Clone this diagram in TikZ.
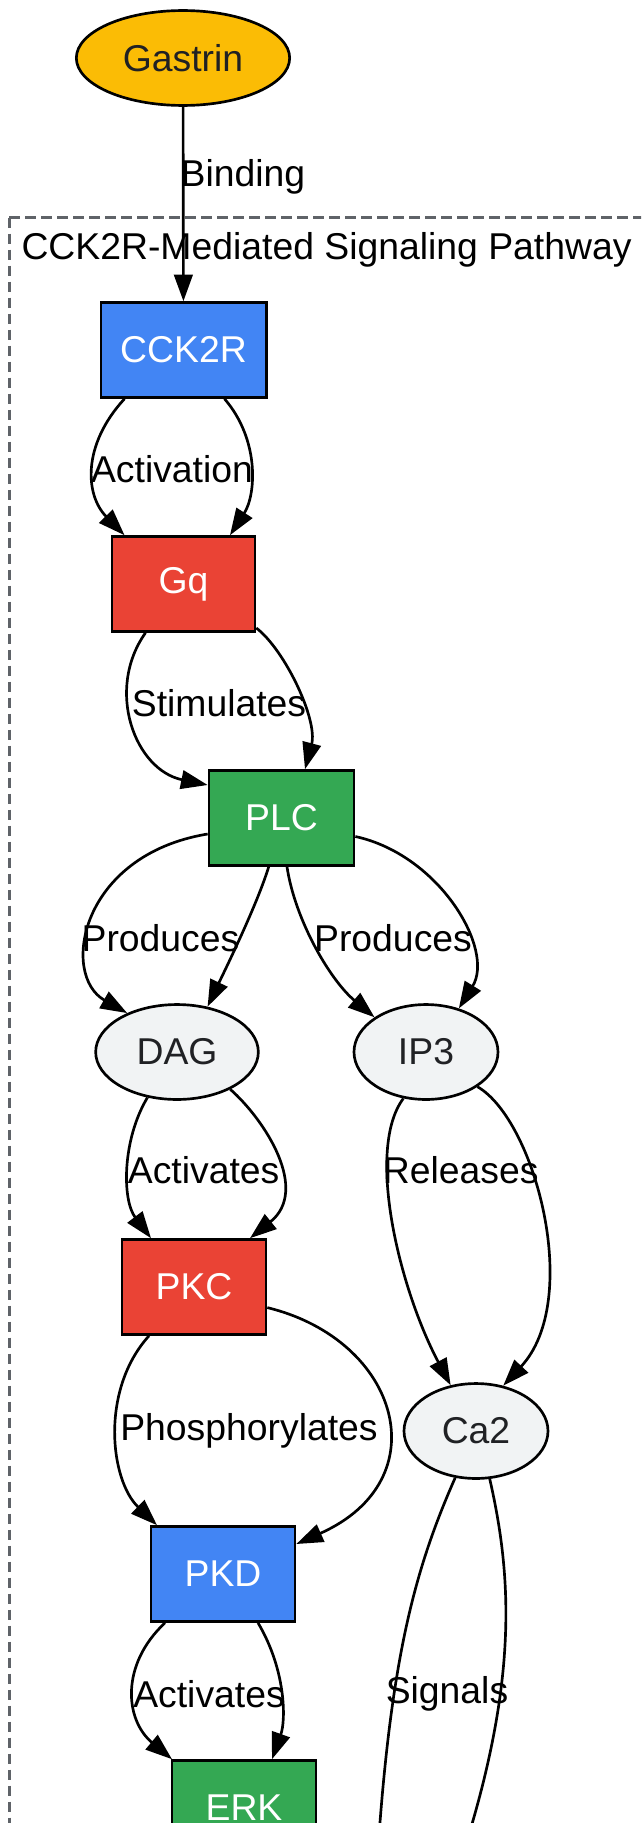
\documentclass[tikz,border=0pt]{standalone}
\usepackage{fontspec}
\setmainfont{Liberation Sans}
\usetikzlibrary{shapes.geometric,arrows.meta,calc}
\definecolor{gYellow}{HTML}{FBBC05}
\definecolor{gBlue}{HTML}{4285F4}
\definecolor{gRed}{HTML}{EA4335}
\definecolor{gGreen}{HTML}{34A853}
\definecolor{gLight}{HTML}{F1F3F4}
\definecolor{gText}{HTML}{202124}
\definecolor{gFrame}{HTML}{5F6368}
\begin{document}
\begin{tikzpicture}
[x=0.375pt,y=-0.375pt,
  font=\fontsize{14}{17}\selectfont,
  boxDecorate/.style={shape=rectangle,draw,line width=1pt,inner sep=0pt,
    minimum width=54pt,minimum height=35.6pt,text=white},%
  ovalDecorate/.style={shape=ellipse,draw,line width=1pt,inner sep=0pt,
    minimum height=35.6pt,fill=gLight,text=gText},%
  lineDecorate/.style={-{Triangle[length=10pt,width=7pt]},line width=1pt},%
  labelDecorate/.style={inner sep=0pt,text=black},%
  clusterDecorate/.style={draw=gFrame,line width=1pt,dash pattern=on 4pt off 2pt}]
\clip (0,0) rectangle (641,1823);
\fill[white] (0,0) rectangle (641,1823);
%% cluster
\draw[clusterDecorate] (9.3,217.5) rectangle (700,2100);
\node (title) at (21,250) [anchor=west,inner sep=0pt] {CCK2R-Mediated Signaling Pathway};
%% nodes or vertices
\node (gastrin) at (183,58) [ovalDecorate,fill=gYellow,minimum width=80pt] {Gastrin};
\node (cck) at (183.5,350) [boxDecorate,fill=gBlue,minimum width=62pt] {CCK2R};
\node (gq) at (183.5,584) [boxDecorate,fill=gRed,minimum width=53.6pt] {Gq};
\node (plc) at (281.5,818) [boxDecorate,fill=gGreen,minimum width=54.4pt] {PLC};
\node (dag) at (177,1052) [ovalDecorate,minimum width=61pt] {DAG};
\node (ip3) at (426,1052) [ovalDecorate,minimum width=54pt] {IP3};
\node (pkc) at (194,1287) [boxDecorate,fill=gRed] {PKC};
\node (ca2) at (476,1431) [ovalDecorate,minimum width=54pt] {Ca2};
\node (pkd) at (223,1574) [boxDecorate,fill=gBlue] {PKD};
\node (erk) at (244,1808) [boxDecorate,fill=gGreen] {ERK};
\coordinate (sigA) at (372,1960);
\coordinate (sigB) at (425,1960);
%% edges or lines
\draw[lineDecorate] (gastrin) -- (cck);
\draw[lineDecorate] ($(cck.south)+(-59,0)$) .. controls (82,445) and (85,495) .. ($(gq.north)+(-59,0)$);
\draw[lineDecorate] ($(cck.south)+(41,0)$) .. controls (260,440) and (256,495) .. ($(gq.north)+(46.5,0)$);
\draw[lineDecorate] ($(gq.south)+(-38,0)$) .. controls (105,690) and (135,770) .. ($(plc.west)+(0,-33)$);
\draw[lineDecorate] ($(gq.east)+(0,44)$) .. controls (285,650) and (318,720) .. ($(plc.north)+(23.5,0)$);
\draw[lineDecorate] ($(plc.west)+(0,16)$) .. controls (80,855) and (60,975) .. (dag.142);
\draw[lineDecorate] ($(plc.south)+(-12.8,0)$) .. controls (257,905) and (225,970) .. (dag.56);
\draw[lineDecorate] ($(plc.south)+(5.5,0)$) .. controls (295,920) and (330,980) .. (ip3.146);
\draw[lineDecorate] ($(plc.east)+(0,18.5)$) .. controls (440,855) and (495,950) .. (ip3.53);
\draw[lineDecorate] (dag.237) .. controls (122,1140) and (122,1200) .. ($(pkc.north)+(-43,0)$);
\draw[lineDecorate] (dag.325) .. controls (265,1120) and (310,1190) .. ($(pkc.north)+(56,0)$);
\draw[lineDecorate] (ip3.244) .. controls (365,1150) and (400,1290) .. (ca2.119);
\draw[lineDecorate] (ip3.326) .. controls (535,1120) and (583,1300) .. (ca2.59);
\draw[lineDecorate] ($(pkc.south)+(-45,0)$) .. controls (100,1390) and (110,1480) .. ($(pkd.north)+(-66,0)$);
\draw[lineDecorate] ($(pkc.east)+(0,20.6)$) .. controls (400,1340) and (440,1480) .. ($(pkd.east)+(0,-30)$);
\draw[lineDecorate] ($(pkd.south)+(-58,0)$) .. controls (120,1665) and (125,1720) .. ($(erk.north)+(-72,0)$);
\draw[lineDecorate] ($(pkd.south)+(35,0)$) .. controls (286,1670) and (286,1720) .. ($(erk.north)+(28,0)$);
\draw[lineDecorate] (ca2.246) .. controls (410,1580) and (385,1680) .. (sigA);
\draw[lineDecorate] (ca2.286) .. controls (515,1590) and (520,1710) .. (sigB);
%% edge labels
\node (lBinding) at (243,177) [labelDecorate] {Binding};
\node (lActivation) at (172,469) [labelDecorate] {Activation};
\node (lStimulates) at (219,703) [labelDecorate] {Stimulates};
\node (lProducesDag) at (160.5,938) [labelDecorate] {Produces};
\node (lProducesIp) at (393,938) [labelDecorate] {Produces};
\node (lActivatesPkc) at (203.6,1170) [labelDecorate] {Activates};
\node (lReleases) at (460.7,1170) [labelDecorate] {Releases};
\node (lPhosphorylates) at (249,1431) [labelDecorate] {Phosphorylates};
\node (lActivatesErk) at (209,1694) [labelDecorate] {Activates};
\node (lSignals) at (447,1694) [labelDecorate] {Signals};
\end{tikzpicture}
\end{document}
